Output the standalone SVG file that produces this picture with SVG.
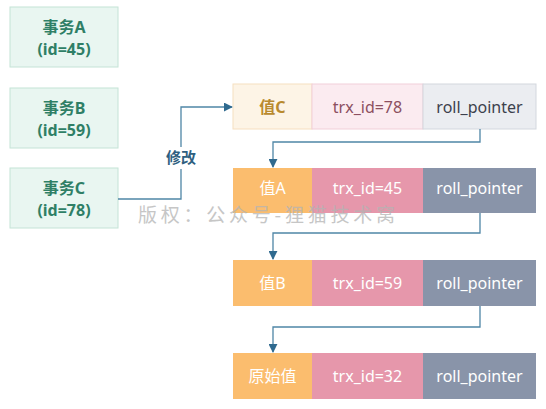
<svg xmlns="http://www.w3.org/2000/svg" width="546" height="409" viewBox="0 0 546 409">
<defs>
<style>
.tx{fill:#e9f6f1;stroke:#c4e3d6;stroke-width:1}
.txt{font-family:"Noto Sans","Noto Sans CJK SC",sans-serif;font-size:16px;font-weight:bold;fill:#2f7f66;text-anchor:middle}
.cell{font-family:"Noto Sans","Noto Sans CJK SC",sans-serif;font-size:16px;text-anchor:middle;dominant-baseline:central}
.w{fill:#ffffff}
.conn{fill:none;stroke:#4f86a6;stroke-width:1.3}
</style>
<marker id="ah" viewBox="0 0 10 10" refX="9" refY="5" markerWidth="9" markerHeight="9" markerUnits="userSpaceOnUse" orient="auto">
<path d="M0,0 L10,5 L0,10 z" fill="#2f6a8f"/>
</marker>
</defs>
<rect width="546" height="409" fill="#ffffff"/>

<g id="txA"><rect class="tx" x="10" y="7" width="108" height="60"/><text class="txt" x="64" y="33">事务A</text><text class="txt" x="64" y="55">(id=45)</text></g>
<g id="txB"><rect class="tx" x="10" y="88" width="108" height="60"/><text class="txt" x="64" y="114">事务B</text><text class="txt" x="64" y="136">(id=59)</text></g>
<g id="txC"><rect class="tx" x="10" y="168" width="108" height="60"/><text class="txt" x="64" y="194">事务C</text><text class="txt" x="64" y="216">(id=78)</text></g>

<g id="rowC">
<rect x="233" y="84" width="79" height="45" fill="#fdf4e6" stroke="#f6dfc0" stroke-width="1"/>
<rect x="312" y="84" width="111" height="45" fill="#fbebf0" stroke="#f1cfd9" stroke-width="1"/>
<rect x="423" y="84" width="113" height="45" fill="#ebedf1" stroke="#d3d7de" stroke-width="1"/>
<text class="cell" x="272.5" y="106.5" fill="#b98a2e" font-weight="bold">值C</text>
<text class="cell" x="367.5" y="106.5" fill="#8c4f60">trx_id=78</text>
<text class="cell" x="479.5" y="106.5" fill="#3c414c">roll_pointer</text>
</g>
<g id="rowA">
<rect x="233" y="168" width="79" height="45" fill="#fbbd6e"/>
<rect x="312" y="168" width="111" height="45" fill="#e697ab"/>
<rect x="423" y="168" width="113" height="45" fill="#8994a9"/>
<text class="cell w" x="272.5" y="188">值A</text>
<text class="cell w" x="367.5" y="188">trx_id=45</text>
<text class="cell w" x="479.5" y="188">roll_pointer</text>
</g>
<g id="rowB">
<rect x="233" y="260" width="79" height="46" fill="#fbbd6e"/>
<rect x="312" y="260" width="111" height="46" fill="#e697ab"/>
<rect x="423" y="260" width="113" height="46" fill="#8994a9"/>
<text class="cell w" x="272.5" y="283">值B</text>
<text class="cell w" x="367.5" y="283">trx_id=59</text>
<text class="cell w" x="479.5" y="283">roll_pointer</text>
</g>
<g id="rowO">
<rect x="233" y="353" width="79" height="46" fill="#fbbd6e"/>
<rect x="312" y="353" width="111" height="46" fill="#e697ab"/>
<rect x="423" y="353" width="113" height="46" fill="#8994a9"/>
<text class="cell w" x="272.5" y="376">原始值</text>
<text class="cell w" x="367.5" y="376">trx_id=32</text>
<text class="cell w" x="479.5" y="376">roll_pointer</text>
</g>

<g id="connectors">
<path class="conn" d="M118,199 H181 V107 H232" marker-end="url(#ah)"/>
<rect x="163" y="147" width="36" height="22" fill="#ffffff"/>
<text x="181" y="163" font-family="Noto Sans CJK SC, sans-serif" font-size="15" font-weight="bold" fill="#2f5f80" text-anchor="middle">修改</text>
<path class="conn" d="M480,129 V142 H273 V167" marker-end="url(#ah)"/>
<path class="conn" d="M480,213 V233 H273 V259" marker-end="url(#ah)"/>
<path class="conn" d="M480,306 V327 H273 V352" marker-end="url(#ah)"/>
</g>

<text x="138" y="222" font-family="Noto Sans CJK SC, sans-serif" font-size="19" fill="#b4b4b4" opacity="0.75" textLength="257">版权：公众号-狸猫技术窝</text>
</svg>
